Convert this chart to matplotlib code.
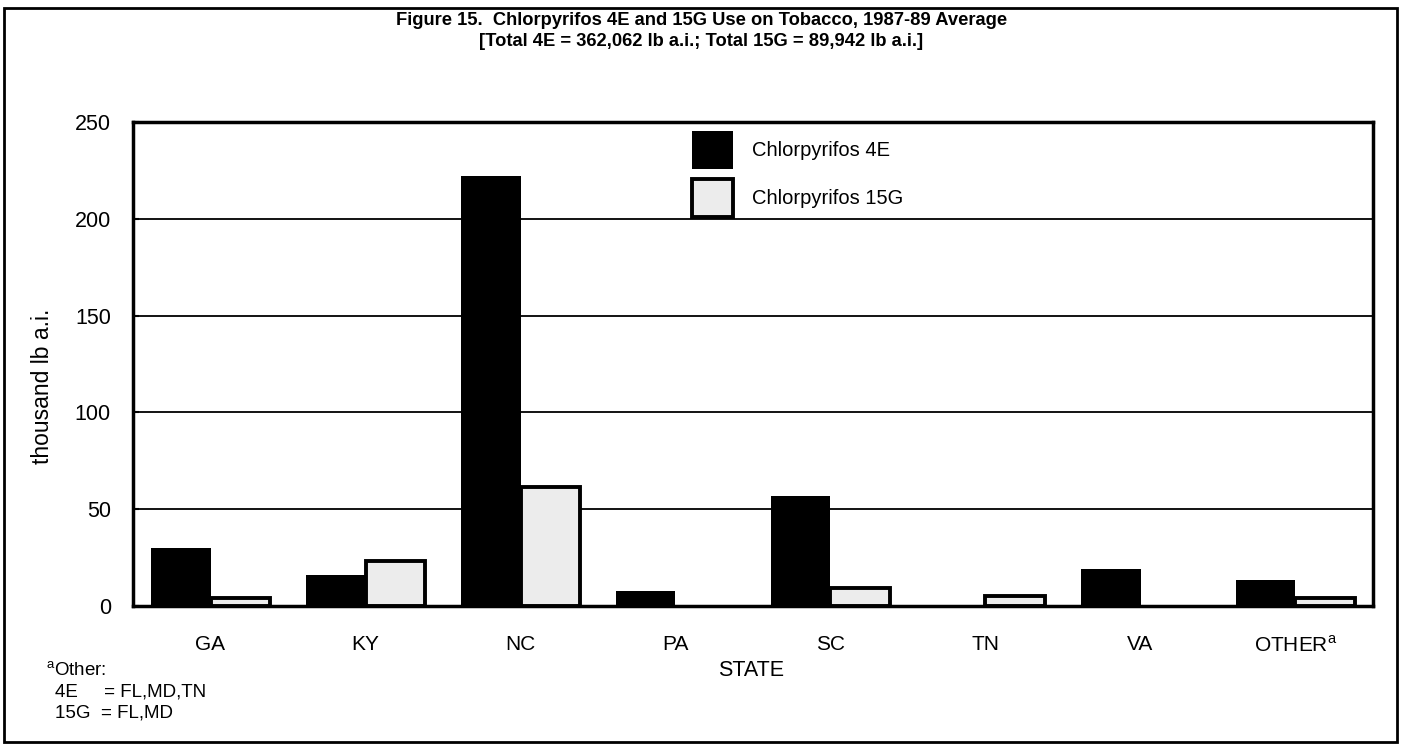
import numpy as np
import matplotlib
matplotlib.use("Agg")
import matplotlib.pyplot as plt
from matplotlib.patches import Rectangle

plt.rcParams["font.family"] = ["Liberation Sans", "DejaVu Sans"]
plt.rcParams["mathtext.fontset"] = "custom"
plt.rcParams["mathtext.rm"] = "Liberation Sans"

# ─────────────────────────────────────────────────────────────────────────────
# Data (thousand lb a.i.)
# ─────────────────────────────────────────────────────────────────────────────
states   = ["GA", "KY", "NC", "PA", "SC", "TN", "VA", "OTHER$^{\\mathrm{a}}$"]
use_4e   = [30.0, 16.0, 222.0, 8.0, 57.0, 0.0, 19.0, 13.5]
use_15g  = [4.0, 23.0, 61.5, 0.0, 9.5, 5.0, 0.0, 4.0]
y_ticks  = [0, 50, 100, 150, 200, 250]

title = ("Figure 15.  Chlorpyrifos 4E and 15G Use on Tobacco, 1987-89 Average\n"
         "[Total 4E = 362,062 lb a.i.; Total 15G = 89,942 lb a.i.]")

W, H = 1403, 748
fig = plt.figure(figsize=(W / 100, H / 100), dpi=100)
ax = fig.add_axes([133 / W, 1 - 606 / H, (1373 - 133) / W, (606 - 122) / H])

x = np.arange(len(states))
bw = 0.387
ax.bar(x - bw / 2, use_4e, width=bw, color="black", edgecolor="black",
       linewidth=0, label="Chlorpyrifos 4E", zorder=3)
# no outline for empty bars
lw_15g = [2.8 if v > 0 else 0 for v in use_15g]
ax.bar(x + bw / 2, use_15g, width=bw, color="#ececec", edgecolor="black",
       linewidth=lw_15g, zorder=3)
# legend proxy for 15G
ax.bar([np.nan], [np.nan], color="#ececec", edgecolor="black",
       linewidth=2.8, label="Chlorpyrifos 15G")

ax.set_xlim(-0.5, len(states) - 0.5)
ax.set_ylim(0, 250)
ax.set_yticks(y_ticks)
ax.set_xticks(x)
ax.set_xticklabels(states)
ax.tick_params(axis="x", length=0, labelsize=15, pad=21)
ax.tick_params(axis="y", direction="in", length=4, width=1.5,
               labelsize=15.5, pad=16)
ax.yaxis.grid(True, color="black", linewidth=1.3, zorder=1)
for s in ax.spines.values():
    s.set_linewidth(2.5)
    s.set_zorder(4)

fig.text(43 / W, 1 - 386 / H, "thousand lb a.i.", fontsize=16.5,
         rotation=90, ha="center", va="center")
fig.text(751 / W, 1 - 670 / H, "STATE", fontsize=15.5, ha="center", va="center")

leg = ax.legend(loc="upper left", bbox_to_anchor=(0.436, 1.018), frameon=False,
                fontsize=14.5, handlelength=2.05, handleheight=2.5,
                labelspacing=0.5, handletextpad=0.95)

fig.text(0.5, 1 - 31 / H, title, fontsize=13.2, fontweight="bold",
         ha="center", va="center", linespacing=1.3)

fig.text(46 / W, 1 - 671 / H, "$^{\\mathrm{a}}$Other:", fontsize=13.5,
         va="center")
fig.text(55 / W, 1 - 692 / H, "4E     = FL,MD,TN", fontsize=13.5, va="center")
fig.text(55 / W, 1 - 713 / H, "15G  = FL,MD", fontsize=13.5, va="center")

fig.patches.append(Rectangle((4 / W, 6 / H), (1397 - 4) / W, (740 - 6) / H,
                             transform=fig.transFigure, fill=False,
                             edgecolor="black", linewidth=2))

fig.savefig("out.png", dpi=100)
